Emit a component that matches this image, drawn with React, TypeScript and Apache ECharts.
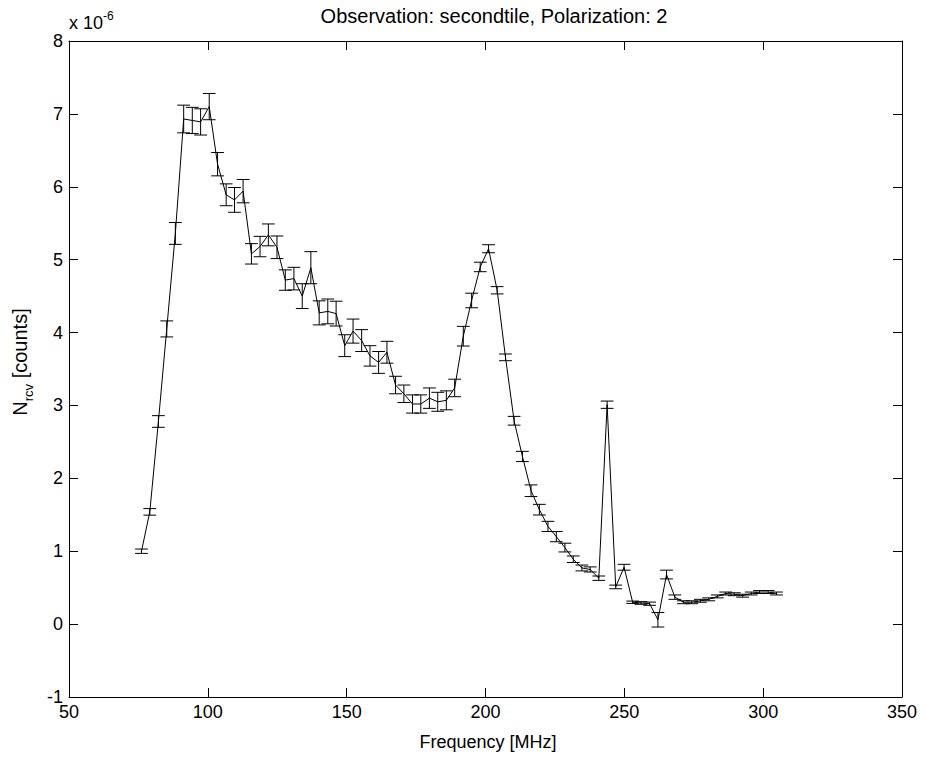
import React, { useEffect, useRef } from "react";
import * as echarts from "echarts";

// Frequency [MHz]
const freq = [
  76.1, 79.1, 82.2, 85.2, 88.3, 91.3, 94.4, 97.4, 100.5, 103.5,
  106.6, 109.6, 112.7, 115.7, 118.8, 121.8, 124.9, 127.9, 131.0, 134.0,
  137.1, 140.1, 143.2, 146.2, 149.3, 152.3, 155.4, 158.4, 161.5, 164.5,
  167.6, 170.6, 173.7, 176.7, 179.8, 182.8, 185.9, 188.9, 192.0, 195.0,
  198.1, 201.1, 204.2, 207.2, 210.3, 213.3, 216.4, 219.4, 222.5, 225.5,
  228.6, 231.6, 234.7, 237.7, 240.8, 243.8, 246.9, 249.9, 253.0, 256.0,
  259.1, 262.1, 265.2, 268.2, 271.3, 274.3, 277.4, 280.4, 283.5, 286.5,
  289.6, 292.6, 295.7, 298.7, 301.8, 304.8,
];

// N_rcv [counts] (x 10^-6)
const nrcv = [
  1.0, 1.54, 2.78, 4.05, 5.36, 6.93, 6.91, 6.89, 7.1, 6.31,
  5.89, 5.82, 5.94, 5.08, 5.18, 5.34, 5.17, 4.72, 4.74, 4.5,
  4.89, 4.27, 4.29, 4.26, 3.82, 4.02, 3.89, 3.68, 3.59, 3.73,
  3.28, 3.16, 3.02, 3.02, 3.1, 3.05, 3.07, 3.24, 3.95, 4.44,
  4.9, 5.15, 4.58, 3.66, 2.79, 2.3, 1.83, 1.57, 1.34, 1.2,
  1.05, 0.89, 0.77, 0.75, 0.63, 3.01, 0.51, 0.78, 0.3, 0.29,
  0.28, 0.06, 0.68, 0.37, 0.3, 0.3, 0.32, 0.34, 0.38, 0.42,
  0.41, 0.39, 0.42, 0.44, 0.44, 0.42,
];

// error bar half-heights (x 10^-6)
const errs = [
  0.03, 0.045, 0.08, 0.11, 0.15, 0.19, 0.18, 0.18, 0.18, 0.16,
  0.15, 0.17, 0.16, 0.14, 0.14, 0.15, 0.155, 0.14, 0.155, 0.17,
  0.22, 0.165, 0.17, 0.17, 0.15, 0.165, 0.15, 0.14, 0.15, 0.15,
  0.12, 0.12, 0.125, 0.125, 0.14, 0.13, 0.13, 0.12, 0.135, 0.1,
  0.065, 0.055, 0.05, 0.046, 0.06, 0.07, 0.08, 0.073, 0.07, 0.07,
  0.06, 0.045, 0.04, 0.035, 0.03, 0.05, 0.025, 0.04, 0.016, 0.018,
  0.022, 0.1, 0.06, 0.03, 0.02, 0.02, 0.02, 0.02, 0.02, 0.02,
  0.02, 0.02, 0.02, 0.02, 0.02, 0.02,
];

const xTicks = { min: 50, max: 350, interval: 50 };
const yTicks = { min: -1, max: 8, interval: 1 };

const FONT = "'Liberation Sans', Arial, Helvetica, sans-serif";
const CAP_HALF = 2.3; // MHz

export default function App() {
  const ref = useRef<HTMLDivElement>(null);

  useEffect(() => {
    if (!ref.current) return;
    const chart = echarts.init(ref.current, undefined, { renderer: "svg" });

    const lineData = freq.map((f, i) => [f, nrcv[i]]);
    const errData = freq.map((f, i) => [f, nrcv[i], errs[i]]);

    const axisCommon = {
      axisLine: { show: true, onZero: false, lineStyle: { color: "#000", width: 1 } },
      axisTick: { show: true, inside: true, length: 9, lineStyle: { color: "#000", width: 1 } },
      splitLine: { show: false },
    };

    const option: any = {
      animation: false,
      backgroundColor: "#fff",
      grid: { left: 69, right: 23, top: 41, bottom: 61, containLabel: false },
      xAxis: [
        {
          type: "value",
          position: "bottom",
          ...xTicks,
          ...axisCommon,
          axisLabel: { show: true, color: "#000", fontSize: 18, fontFamily: FONT, margin: 6 },
        },
        {
          type: "value",
          position: "top",
          ...xTicks,
          ...axisCommon,
          axisLabel: { show: false },
        },
      ],
      yAxis: [
        {
          type: "value",
          position: "left",
          ...yTicks,
          ...axisCommon,
          axisLabel: { show: true, color: "#000", fontSize: 18, fontFamily: FONT, margin: 6 },
        },
        {
          type: "value",
          position: "right",
          ...yTicks,
          ...axisCommon,
          axisLabel: { show: false },
        },
      ],
      graphic: [
        {
          type: "text",
          x: 494,
          y: 16,
          style: {
            text: "Observation: secondtile, Polarization: 2",
            fontSize: 20,
            fontFamily: FONT,
            fill: "#000",
            align: "center",
            verticalAlign: "middle",
          },
        },
        {
          type: "text",
          x: 488,
          y: 742,
          style: {
            text: "Frequency [MHz]",
            fontSize: 18,
            fontFamily: FONT,
            fill: "#000",
            align: "center",
            verticalAlign: "middle",
          },
        },
        {
          type: "text",
          x: 69,
          y: 32,
          style: {
            text: "x 10",
            fontSize: 18,
            fontFamily: FONT,
            fill: "#000",
            align: "left",
            verticalAlign: "bottom",
          },
        },
        {
          type: "text",
          x: 103,
          y: 22,
          style: {
            text: "-6",
            fontSize: 12,
            fontFamily: FONT,
            fill: "#000",
            align: "left",
            verticalAlign: "bottom",
          },
        },
        {
          type: "text",
          x: 21,
          y: 362,
          rotation: Math.PI / 2,
          style: {
            text: "{n|N}{s|rcv}{n| [counts]}",
            fontFamily: FONT,
            fill: "#000",
            align: "center",
            verticalAlign: "middle",
            rich: {
              n: { fontSize: 20, fontFamily: FONT, lineHeight: 22, verticalAlign: "top", fill: "#000" },
              s: {
                fontSize: 13,
                fontFamily: FONT,
                lineHeight: 13,
                padding: [12, 0, 0, 0],
                verticalAlign: "top",
                fill: "#000",
              },
            },
          },
        },
      ],
      series: [
        {
          type: "line",
          data: lineData,
          xAxisIndex: 0,
          yAxisIndex: 0,
          symbol: "none",
          lineStyle: { color: "#000", width: 1 },
          z: 2,
        },
        {
          type: "custom",
          data: errData,
          xAxisIndex: 0,
          yAxisIndex: 0,
          encode: { x: 0, y: 1 },
          z: 3,
          renderItem: (params: any, api: any) => {
            const x = api.value(0);
            const y = api.value(1);
            const e = api.value(2);
            const top = api.coord([x, y + e]);
            const bot = api.coord([x, y - e]);
            const l1 = api.coord([x - CAP_HALF, y + e]);
            const r1 = api.coord([x + CAP_HALF, y + e]);
            const l2 = api.coord([x - CAP_HALF, y - e]);
            const r2 = api.coord([x + CAP_HALF, y - e]);
            const st = { stroke: "#000", lineWidth: 1 };
            return {
              type: "group",
              children: [
                { type: "line", shape: { x1: top[0], y1: top[1], x2: bot[0], y2: bot[1] }, style: st },
                { type: "line", shape: { x1: l1[0], y1: l1[1], x2: r1[0], y2: r1[1] }, style: st },
                { type: "line", shape: { x1: l2[0], y1: l2[1], x2: r2[0], y2: r2[1] }, style: st },
              ],
            };
          },
        },
      ],
    };

    chart.setOption(option);
    return () => chart.dispose();
  }, []);

  return (
    <div
      ref={ref}
      style={{ position: "absolute", left: 0, top: 0, width: 925, height: 758, background: "#fff" }}
    />
  );
}
